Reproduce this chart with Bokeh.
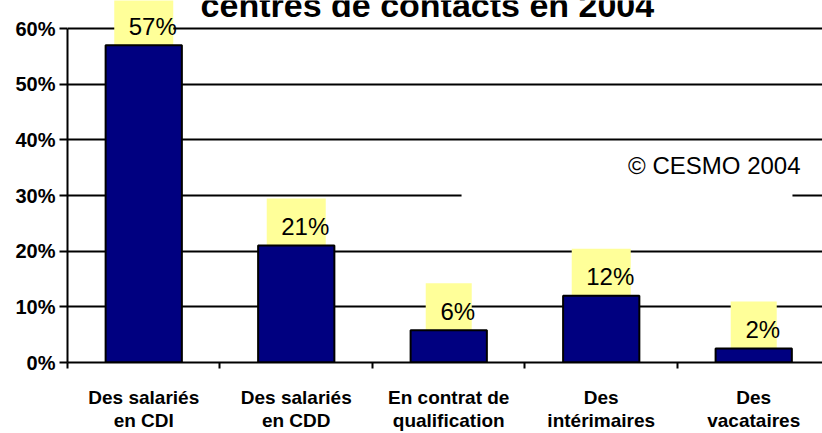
from bokeh.plotting import figure
from bokeh.models import Range1d, FixedTicker, LabelSet, Label, BoxAnnotation, ColumnDataSource
from bokeh.core.properties import value
from bokeh.embed import file_html
from bokeh.resources import INLINE

# ---- data ----
categories = ["Des salariés\nen CDI", "Des salariés\nen CDD", "En contrat de\nqualification",
              "Des\nintérimaires", "Des\nvacataires"]
values = [57, 21, 5.8, 12, 2.5]
value_labels = ["57%", "21%", "6%", "12%", "2%"]
y_ticks = [0, 10, 20, 30, 40, 50, 60]
y_tick_labels = ["0%", "10%", "20%", "30%", "40%", "50%", "60%"]
title_text = "centres de contacts en 2004"
note_text = "© CESMO 2004"

FONT = "Liberation Sans"
NAVY = "#000080"
YELLOW = "#FFFF99"

centers = [i + 0.5 for i in range(len(categories))]
boundaries = [float(i) for i in range(len(categories))]

p = figure(width=822, height=433, output_backend="svg", toolbar_location=None,
           x_range=Range1d(0, 4.951), y_range=Range1d(0, 65.03),
           min_border_left=67, min_border_right=0, min_border_top=0, min_border_bottom=71)
p.outline_line_color = None
p.background_fill_color = "white"
p.border_fill_color = "white"

# x axis
xa = p.xaxis[0]
xa.ticker = FixedTicker(ticks=centers, minor_ticks=boundaries)
xa.major_label_overrides = {c: lab for c, lab in zip(centers, categories)}
xa.major_tick_line_color = None
xa.minor_tick_line_color = "black"
xa.minor_tick_line_width = 2
xa.minor_tick_out = 6
xa.minor_tick_in = 0
xa.axis_line_color = "black"
xa.axis_line_width = 2
xa.major_label_text_font = FONT
xa.major_label_text_font_size = "19px"
xa.major_label_text_font_style = "bold"
xa.major_label_text_color = "black"
xa.major_label_text_line_height = 1.1
xa.major_label_standoff = 18

# y axis
ya = p.yaxis[0]
ya.ticker = FixedTicker(ticks=y_ticks)
ya.major_label_overrides = {t: lab for t, lab in zip(y_ticks, y_tick_labels)}
ya.bounds = (0, 60)
ya.major_tick_out = 8
ya.major_tick_in = 0
ya.major_tick_line_width = 2
ya.minor_tick_line_color = None
ya.axis_line_width = 2
ya.major_label_text_font = FONT
ya.major_label_text_font_size = "20px"
ya.major_label_text_font_style = "bold"
ya.major_label_text_color = "black"
ya.major_label_standoff = 4

p.xgrid.grid_line_color = None
p.ygrid.grid_line_color = "black"
p.ygrid.grid_line_width = 2

src = ColumnDataSource(dict(x=centers, top=values, label=value_labels,
                            box_y=[v + 4.22 for v in values],
                            box_w=[13 * len(l) + 20 for l in value_labels]))

# yellow label boxes
p.rect(x="x", y="box_y", width="box_w", width_units="screen", height=8.44,
       source=src, fill_color=YELLOW, line_color=None)

# bars
p.vbar(x="x", top="top", width=0.5, source=src, fill_color=NAVY,
       line_color="black", line_width=2)

labels = LabelSet(x="x", y="top", text="label", source=src, x_offset=9, y_offset=19,
                  text_align="center", text_baseline="middle", text_font=value(FONT),
                  text_font_size=value("24px"), text_color=value("black"))
p.add_layout(labels)

# white box behind the copyright note
p.add_layout(BoxAnnotation(left=2.584, right=4.754, bottom=28, top=38,
                           fill_color="white", fill_alpha=1, line_color=None))
p.add_layout(Label(x=4.807, y=35.4, text=note_text, text_align="right",
                   text_baseline="middle", text_font=FONT, text_font_size="24px",
                   text_color="black"))

# partially visible title (cut off at the top, as in the original)
p.add_layout(Label(x=2.36, y=64.3, text=title_text, text_align="center",
                   text_baseline="alphabetic", text_font=FONT, text_font_size="34px",
                   text_font_style="bold", text_color="black"))

open("out.html", "w").write(file_html(p, INLINE))
